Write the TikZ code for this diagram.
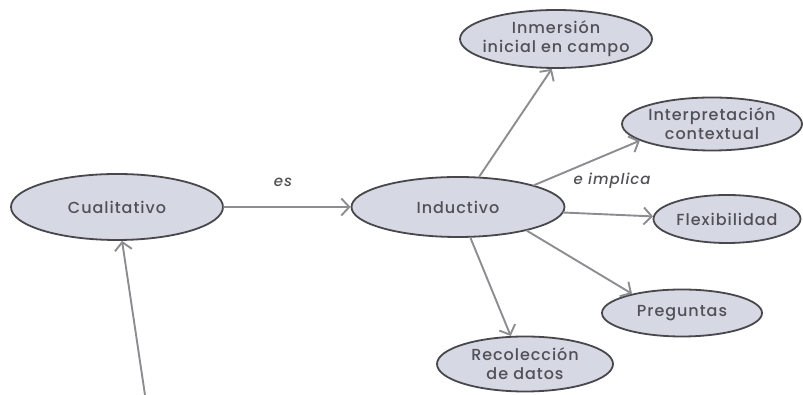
\documentclass[tikz,border=0pt]{standalone}
\usepackage{xcolor}
\usepackage{fontspec}
\setmainfont{Poppins}[UprightFont=* Medium,ItalicFont=* Medium Italic,LetterSpace=6]
\usepackage{tikz}
\usetikzlibrary{shapes.geometric,arrows.meta}
\definecolor{bubblefill}{RGB}{214,216,228}
\definecolor{bubbleline}{RGB}{72,72,76}
\definecolor{arrowgray}{RGB}{140,140,145}
\definecolor{labelgray}{RGB}{80,80,86}

\begin{document}
\begin{tikzpicture}[x=1pt,y=1pt,line cap=round,line join=round,
    bubble/.style={ellipse,draw=bubbleline,fill=bubblefill,line width=1.8pt,inner xsep=-35pt,inner ysep=-9pt,
      align=center,text=labelgray,font=\fontsize{16}{19}\selectfont},
    link/.style={draw=arrowgray,line width=1.9pt,-{Straight Barb[length=8pt,width=17pt,line width=1.9pt]}},
    linklabel/.style={text=labelgray,font=\fontsize{15}{17}\selectfont\itshape}]
    \useasboundingbox (0,0) rectangle (803,395);
    \node[bubble,minimum width=212,minimum height=66] (cual) at (117,188) {Cualitativo};
    \node[bubble,minimum width=213,minimum height=60] (induct) at (458,188) {Inductivo};
    \node[bubble,minimum width=192,minimum height=58] (inmersion) at (556,356) {Inmersión\\inicial en campo};
    \node[bubble,minimum width=180,minimum height=53] (interp) at (712,271) {Interpretación\\contextual};
    \node[bubble,minimum width=147,minimum height=48] (flex) at (727,176) {Flexibilidad};
    \node[bubble,minimum width=160,minimum height=47] (preg) at (682,82) {Preguntas};
    \node[bubble,minimum width=176,minimum height=55] (recol) at (525,31) {Recolección\\de datos};
    \coordinate (below) at (145,0);
    % connectors
    \draw[link] (cual) -- (induct);
    \draw[link] (below) -- (cual);
    \draw[link] (induct.55) -- (inmersion.262);
    \draw[link] (induct.16) -- (interp.193);
    \draw[link] (induct.-3) -- (flex.178);
    \draw[link] (induct.-19) -- (preg.159);
    \draw[link] (induct.-68) -- (recol.117);
    \node[linklabel] (es) at (283,213) {es};
    \node[linklabel] (implica) at (612,214) {e implica};
  \end{tikzpicture}
\end{document}
